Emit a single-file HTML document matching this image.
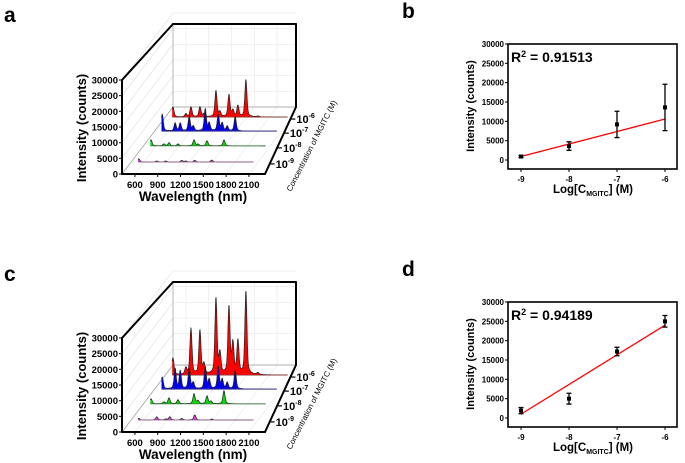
<!DOCTYPE html>
<html><head><meta charset="utf-8">
<style>
html,body{margin:0;padding:0;background:#fff;}
svg{display:block;font-family:"Liberation Sans",Arial,sans-serif;}
.b{font-weight:bold;}
</style></head>
<body>
<svg id="fig" width="685" height="463" viewBox="0 0 685 463" xmlns="http://www.w3.org/2000/svg">
<text x="4" y="22" font-size="21" class="b">a</text>
<text x="402" y="18" font-size="21" class="b">b</text>
<text x="4" y="281" font-size="21" class="b">c</text>
<text x="402" y="276" font-size="21" class="b">d</text>
<g id="pa"></g>
<g id="pc"></g>
<g id="pb"></g>
<g id="pd"></g>
</svg>
<script>
// ---- data ----
const peakWavelengths = [530, 700, 767, 885, 938, 1096, 1148, 1267, 1319, 1385, 1490, 1648];
const rowLabels = ["-9", "-8", "-7", "-6"];
// panel a intensities per row (10^-9, 10^-8, 10^-7, 10^-6)
const aMagenta = [1000, 0, 300, 300, 0, 500, 300, 500, 0, 0, 600, 0];
const aGreen   = [1900, 600, 1000, 600, 0, 1900, 500, 1600, 0, 0, 1900, 0];
const aBlue    = [5400, 2500, 2500, 4500, 1500, 7000, 2500, 5100, 2500, 1500, 4500, 0];
const aRed     = [3200, 1000, 3200, 3200, 1000, 8300, 1500, 7000, 2000, 3500, 11800, 300];
// panel c intensities
const cMagenta = [500, 0, 1000, 300, 1000, 500, 0, 1600, 0, 0, 300, 0];
const cGreen   = [1600, 600, 1900, 1300, 0, 3200, 1000, 2500, 800, 0, 4200, 0];
const cBlue    = [3800, 6400, 5700, 6400, 2000, 7000, 3000, 7000, 3000, 2000, 6000, 0];
const cRed     = [5400, 2000, 14700, 14000, 3200, 24200, 6400, 21400, 9600, 10500, 26500, 600];
const intensityTicks = [0, 5000, 10000, 15000, 20000, 25000, 30000];
const wavelengthTicks = [600, 900, 1200, 1500, 1800, 2100];
// calibration data
const logConc = [-9, -8, -7, -6];
const bMeans = [900, 3600, 9200, 13600];
const bErrs  = [300, 1100, 3400, 6000];
const bFit   = [900, 10600];
const dMeans = [1900, 5000, 17200, 25000];
const dErrs  = [800, 1400, 1100, 1500];
const dFit   = [1000, 24000];
const calYTicks = [0, 5000, 10000, 15000, 20000, 25000, 30000];
const calXTicks = [-9, -8, -7, -6];

const NS = "http://www.w3.org/2000/svg";
function mk(parent, tag, attrs, text){
  const e = document.createElementNS(NS, tag);
  for (const k in attrs) e.setAttribute(k, attrs[k]);
  if (text !== undefined) e.textContent = text;
  parent.appendChild(e);
  return e;
}

function draw3D(g, oy, rows){
  const X0 = 122, Y0 = 174 + oy, H = 94, DX = 51, DY = 67, TOP = Y0 - H;
  const xw = wl => X0 + (wl - 430) * 0.076;
  const yi = v => v * H / 30000;
  const depths = [0.18, 0.42, 0.64, 0.85];
  const colors = ["#e040e0", "#00e000", "#0000ee", "#ff0000"];
  const lineC = ["#8a5a8a", "#3a7a3a", "#3a3a8a", "#8a3a3a"];
  intensityTicks.forEach(t => {
    const y = Y0 - yi(t);
    const l = mk(g, "line", {x1: X0, y1: y, x2: X0 + DX, y2: y - DY, stroke: "#ddd", "stroke-width": 0.6});
    
    
    const l2 = mk(g, "line", {x1: X0 + DX, y1: y - DY, x2: X0 + DX + 123, y2: y - DY, stroke: "#e6e6e6", "stroke-width": 0.6});
    
    
  });
  wavelengthTicks.forEach(t => {
    const x = xw(t);
    const l = mk(g, "line", {x1: x + DX, y1: Y0 - DY, x2: x + DX, y2: TOP - 56, stroke: "#e6e6e6", "stroke-width": 0.6});
    
    
    const l2 = mk(g, "line", {x1: x, y1: Y0, x2: x + DX, y2: Y0 - DY, stroke: "#e6e6e6", "stroke-width": 0.6});
    
    
  });
  [[X0 + DX, TOP - 56, X0 + DX, Y0 - DY], [X0 + DX, Y0 - DY, X0 + DX + 123, Y0 - DY], [X0, Y0, X0 + DX, Y0 - DY]].forEach(s => {
    const l = mk(g, "line", {x1: s[0], y1: s[1], x2: s[2], y2: s[3], stroke: "#999", "stroke-width": 0.7});
    
    
  });
  for (let r = 3; r >= 0; r--){
    const d = depths[r], vals = rows[r];
    const by = Y0 - d * DY;
    const wlStart = 520, wlEnd = 2040;
    let pts = [];
    for (let wl = wlStart; wl <= wlEnd; wl += 3){
      let v = 0;
      peakWavelengths.forEach((p, i) => {
        const s = 13, dd = wl - p;
        v += vals[i] * (0.8 * Math.exp(-(dd * dd) / (2 * s * s)) + 0.2 / (1 + (dd / 30) * (dd / 30)));
      });
      pts.push([xw(wl) + d * DX, by - yi(v)]);
    }
    const poly = [[pts[0][0], by]].concat(pts, [[pts[pts.length - 1][0], by]]);
    const pa = mk(g, "polygon", {points: poly.map(p => p[0].toFixed(1) + "," + p[1].toFixed(1)).join(" "), fill: colors[r]});
    
    
    const pl = mk(g, "polyline", {points: pts.map(p => p[0].toFixed(1) + "," + p[1].toFixed(1)).join(" "), fill: "none", stroke: "#222", "stroke-width": 0.7});
    
    
    const bl = mk(g, "line", {x1: pts[0][0], y1: by, x2: pts[pts.length - 1][0], y2: by, stroke: lineC[r], "stroke-width": 0.9});
    
    
    const tx = X0 + 143 + d * 31, fy = Y0 - d * DY + 3;
    const t = mk(g, "text", {x: tx + 5, y: fy + 3, "font-size": 11, class: "b"});
    
    
    t.innerHTML = '10<tspan dy="-5" font-size="7">' + rowLabels[r] + '</tspan>';
    const tk = mk(g, "line", {x1: tx, y1: fy - 1, x2: tx + 4, y2: fy - 1, stroke: "#000", "stroke-width": 1.2});
    
    
  }
  [[X0, TOP, X0, Y0], [X0, Y0, X0 + 143, Y0], [X0 + 143, Y0, X0 + 174, Y0 - DY], [X0 + 174, Y0 - DY, X0 + 174, TOP - 56], [X0 + DX, TOP - 56, X0 + 174, TOP - 56], [X0, TOP, X0 + DX, TOP - 56]].forEach(s => {
    const l = mk(g, "line", {x1: s[0], y1: s[1], x2: s[2], y2: s[3], stroke: "#000", "stroke-width": 2, "stroke-linecap": "round"});
    
    
  });
  intensityTicks.forEach(t => {
    const y = Y0 - yi(t);
    const tk = mk(g, "line", {x1: X0 - 3, y1: y, x2: X0, y2: y, stroke: "#000", "stroke-width": 1});
    
    
    const tl = mk(g, "text", {x: X0 - 4, y: y + 3.5, "font-size": 9.5, "text-anchor": "end", class: "b"}, String(t));
    
    
  });
  wavelengthTicks.forEach(t => {
    const x = xw(t);
    const tk = mk(g, "line", {x1: x, y1: Y0, x2: x, y2: Y0 + 3, stroke: "#000", "stroke-width": 1});
    
    
    const tl = mk(g, "text", {x: x, y: Y0 + 14, "font-size": 9.5, "text-anchor": "middle", class: "b"}, String(t));
    
    
  });
  const yt = mk(g, "text", {x: 0, y: 0, "font-size": 13, "text-anchor": "middle", class: "b", transform: "translate(86," + (Y0 - 46) + ") rotate(-90)"}, "Intensity (counts)");
  
  
  const xt = mk(g, "text", {x: 193, y: Y0 + 27, "font-size": 13.5, "text-anchor": "middle", class: "b"}, "Wavelength (nm)");
  
  
  const zt = mk(g, "text", {x: 0, y: 0, "font-size": 8, "text-anchor": "middle", transform: "translate(314," + (Y0 - 27) + ") rotate(-63)"}, "Concentration of MGITC (M)");
  
  
}

function drawCal(g, oy, means, errs, fit, r2){
  const L = 508, R = 677, T = 44 + oy, B = 169 + oy;
  const xs = v => 521 + (v + 9) * 48;
  const ys = v => 160 + oy - v * 116 / 30000;
  const box = mk(g, "rect", {x: L, y: T, width: R - L, height: B - T, fill: "none", stroke: "#000", "stroke-width": 1.6});
  
  
  calYTicks.forEach(t => {
    const y = ys(t);
    const tk = mk(g, "line", {x1: L - 3, y1: y, x2: L, y2: y, stroke: "#000", "stroke-width": 1});
    
    
    const tl = mk(g, "text", {x: L - 4, y: y + 3, "font-size": 8, "text-anchor": "end", class: "b"}, String(t));
    
    
  });
  calXTicks.forEach(t => {
    const x = xs(t);
    const tk = mk(g, "line", {x1: x, y1: B, x2: x, y2: B + 3, stroke: "#000", "stroke-width": 1});
    
    
    const tl = mk(g, "text", {x: x, y: B + 13, "font-size": 8, "text-anchor": "middle", class: "b"}, String(t));
    
    
  });
  const fl = mk(g, "line", {x1: xs(logConc[0]), y1: ys(fit[0]), x2: xs(logConc[3]), y2: ys(fit[1]), stroke: "#ff0000", "stroke-width": 1.3});
  
  
  logConc.forEach((c, i) => {
    const x = xs(c), y1 = ys(means[i] - errs[i]), y2 = ys(means[i] + errs[i]);
    const eb = mk(g, "path", {d: `M${x},${y1}V${y2}M${x - 2.5},${y1}H${x + 2.5}M${x - 2.5},${y2}H${x + 2.5}`, stroke: "#000", "stroke-width": 1.3, fill: "none"});
    
    
    const pt = mk(g, "rect", {x: x - 2, y: ys(means[i]) - 2, width: 4, height: 4, fill: "#000"});
    
    
  });
  const rt = mk(g, "text", {x: 511, y: T + 18, "font-size": 14, class: "b"});
  
  
  rt.innerHTML = 'R<tspan dy="-5" font-size="9">2</tspan><tspan dy="5"> = ' + r2 + '</tspan>';
  const yt = mk(g, "text", {x: 0, y: 0, "font-size": 11, "text-anchor": "middle", class: "b", transform: "translate(474," + (T + 62) + ") rotate(-90)"}, "Intensity (counts)");
  
  
  const xt = mk(g, "text", {x: 593, y: B + 24, "font-size": 11.5, "text-anchor": "middle", class: "b"});
  
  
  xt.innerHTML = 'Log[C<tspan dy="3" font-size="7">MGITC</tspan><tspan dy="-3">] (M)</tspan>';
}

draw3D(document.getElementById("pa"), 0, [aMagenta, aGreen, aBlue, aRed]);
draw3D(document.getElementById("pc"), 258, [cMagenta, cGreen, cBlue, cRed]);
drawCal(document.getElementById("pb"), 0, bMeans, bErrs, bFit, "0.91513");
drawCal(document.getElementById("pd"), 258, dMeans, dErrs, dFit, "0.94189");
</script>
</body></html>
